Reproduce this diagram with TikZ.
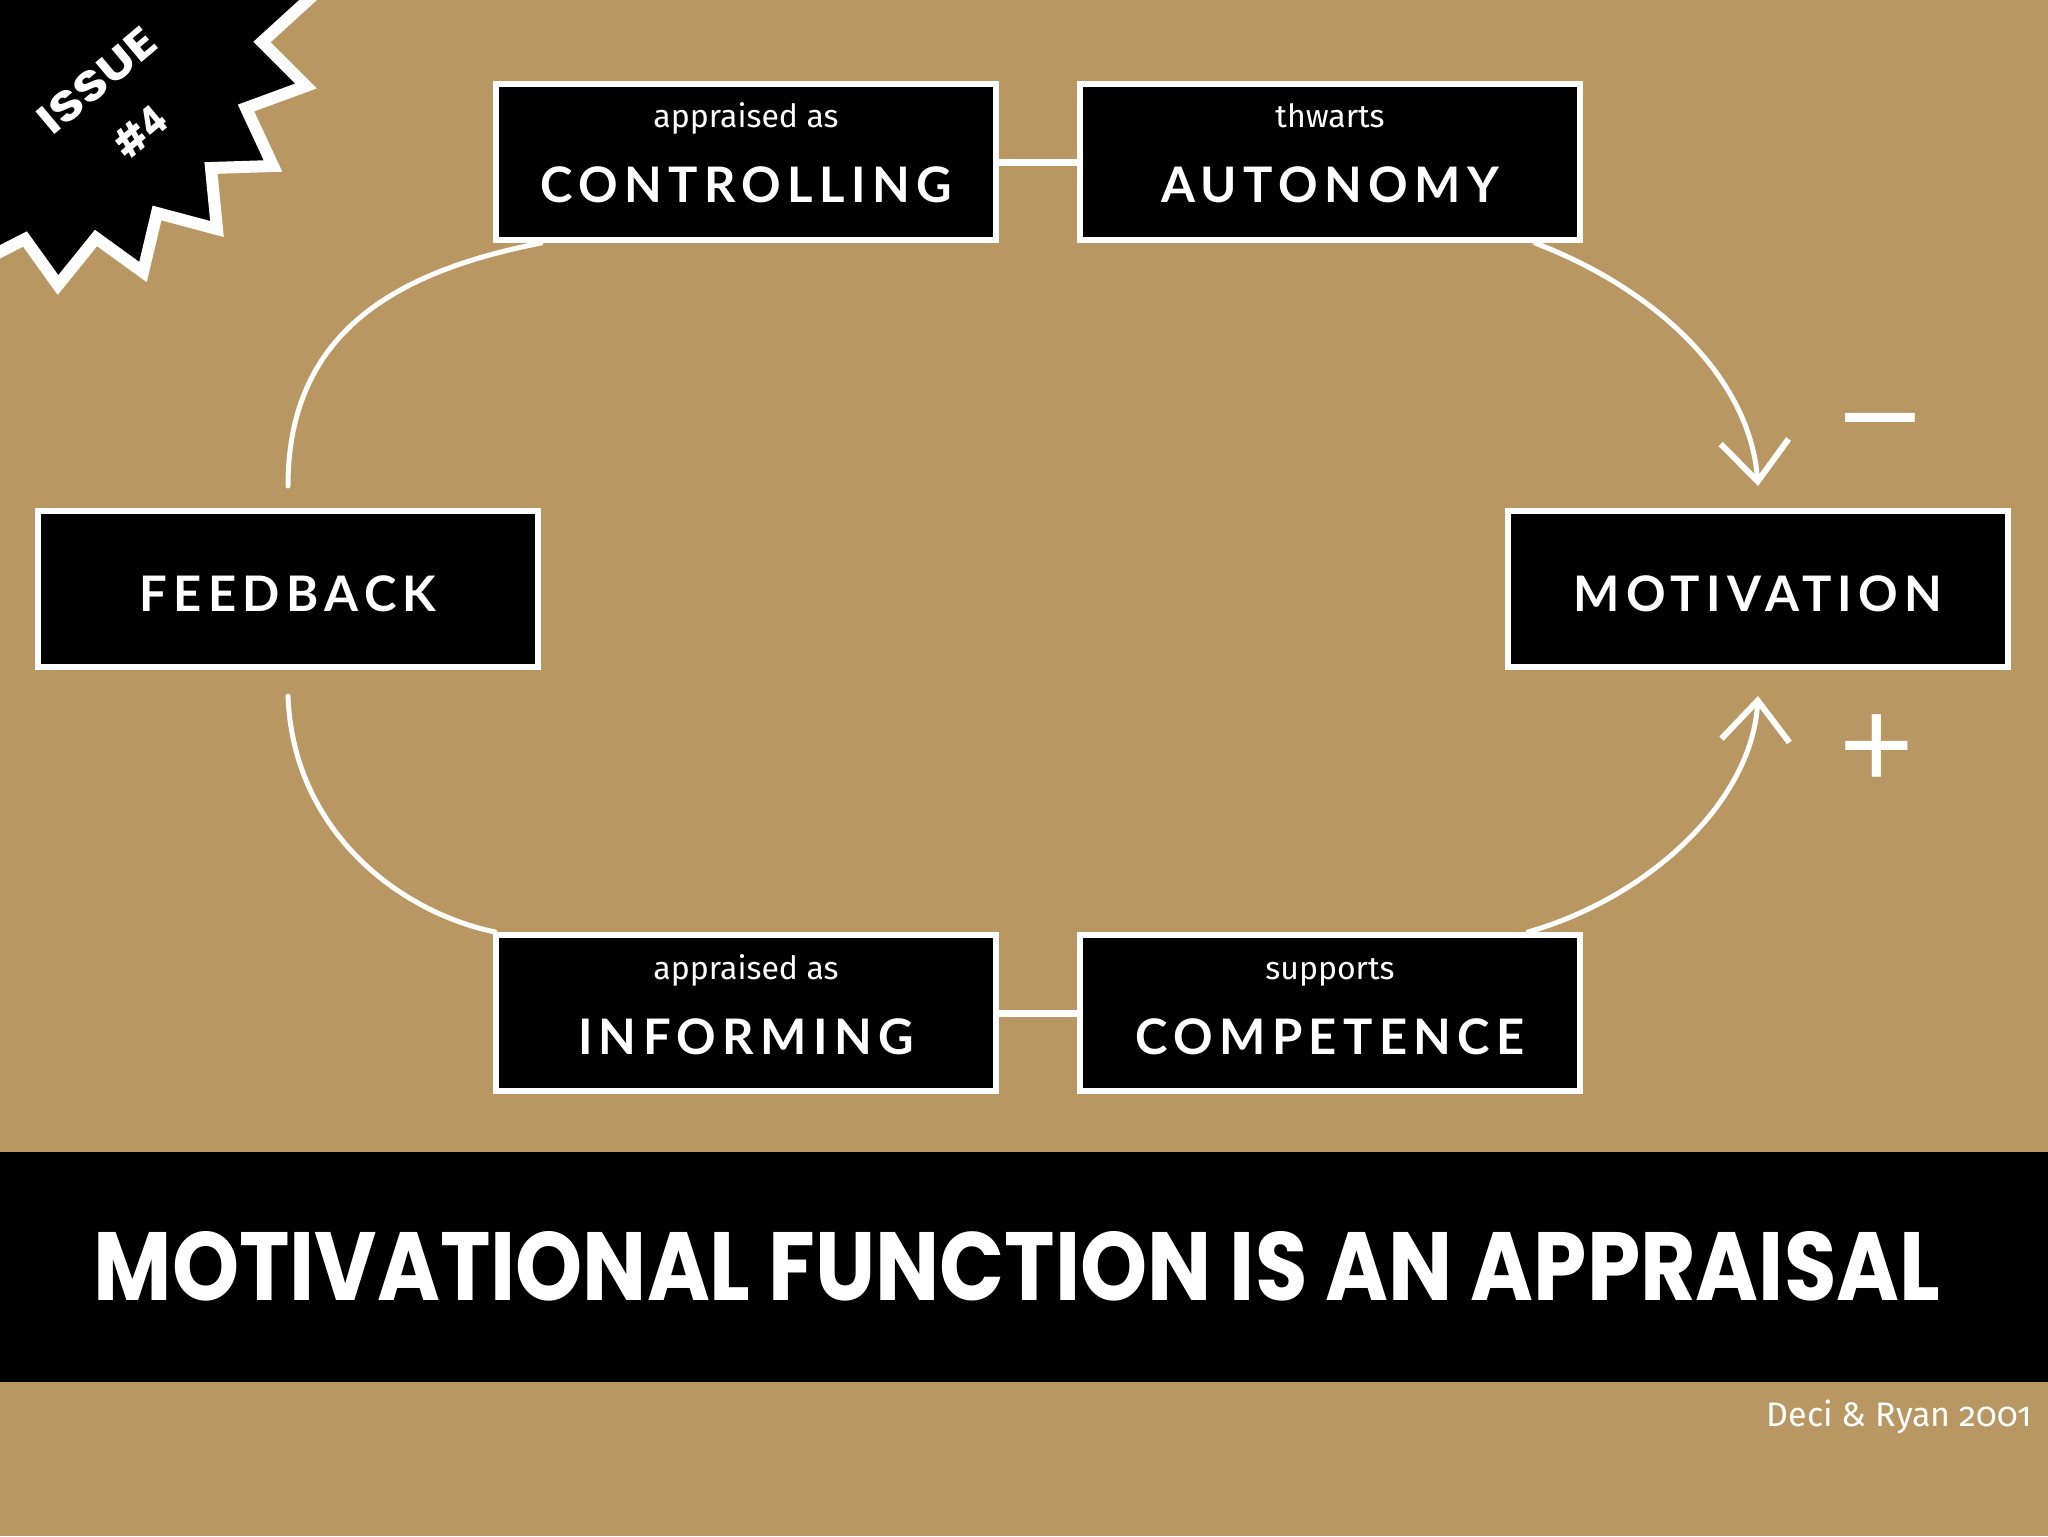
\documentclass[tikz,border=0pt]{standalone}
\usepackage{fontspec}
\usetikzlibrary{arrows.meta,calc}
\newfontfamily\smallfont{Fira Sans}[Numbers=OldStyle]
\newfontfamily\capsfont{Lato}[LetterSpace=13]
\newfontfamily\titlefont{Poppins}
\newfontfamily\signfont{Liberation Sans}
\definecolor{paper}{RGB}{185,151,98}
\begin{document}
\begin{tikzpicture}[x=0.5pt,y=-0.5pt,
  box/.style={fill=black,draw=white,line width=3pt,minimum width=250pt,minimum height=78pt,inner sep=0pt},
  bigword/.style={text=white,font=\capsfont\bfseries\fontsize{24.5}{24.5}\selectfont,inner sep=0pt},
  smallword/.style={text=white,font=\smallfont\fontsize{16}{16}\selectfont,inner sep=0pt,anchor=base},
  chalk/.style={draw=white,line width=2.5pt,line cap=round},
  link/.style={draw=white,line width=3.5pt},
  tipped/.style={-{Straight Barb[length=20pt,width=34pt,line width=3pt]}},
  badgetext/.style={text=white,font=\titlefont\bfseries\fontsize{20}{33.5}\selectfont,inner sep=0pt,align=center},
  sign/.style={text=white,font=\signfont\fontsize{64}{64}\selectfont,inner sep=0pt}
]
\useasboundingbox (0,0) rectangle (2048,1536);
\fill[paper] (0,0) rectangle (2048,1536);

% badge
\filldraw[fill=black,draw=white,line width=6pt,line join=miter]
  (-20,-20) -- (330,-20) -- (262,42) -- (306,86) -- (246,108) -- (273,166)
  -- (211,168) -- (217,229) -- (157,213) -- (143,272) -- (96,238) -- (58,285)
  -- (25,239) -- (-20,262) -- cycle;
\node[badgetext,rotate=40] (issue) at (118.5,106) {\resizebox{70pt}{15pt}{ISSUE}\\\resizebox{28pt}{15pt}{\#4}};

% boxes
\node[box] (ctrl) at (746,162) {};
\node[box] (aut)  at (1330,162) {};
\node[box] (fb)   at (288,589) {};
\node[box] (mot)  at (1758,589) {};
\node[box] (inf)  at (746,1013) {};
\node[box] (comp) at (1330,1013) {};

\node[smallword] (ctrlS) at ($(ctrl.center)+(0,-35)$) {appraised as};
\node[bigword]   (ctrlB) at ($(ctrl.center)+(0,23)$) {CONTROLLING};
\node[smallword] (autS)  at ($(aut.center)+(0,-35)$) {thwarts};
\node[bigword]   (autB)  at ($(aut.center)+(0,23)$) {AUTONOMY};
\node[bigword]   (fbB)   at ($(fb.center)+(0,5)$) {FEEDBACK};
\node[bigword]   (motB)  at ($(mot.center)+(0,5)$) {MOTIVATION};
\node[smallword] (infS)  at ($(inf.center)+(0,-34)$) {appraised as};
\node[bigword]   (infB)  at ($(inf.center)+(0,24)$) {INFORMING};
\node[smallword] (compS) at ($(comp.center)+(0,-34)$) {supports};
\node[bigword]   (compB) at ($(comp.center)+(0,24)$) {COMPETENCE};

% links
\draw[link] (ctrl.east) -- (aut.west);
\draw[link] (inf.east) -- (comp.west);

% curves
\draw[chalk] ([yshift=11pt]fb.north) .. controls +(0,-156) and +(-142,28) .. ($(ctrl.south west)+(48,0)$);
\draw[chalk,tipped] ($(aut.south east)+(-48,0)$) .. controls +(125,48) and +(-8,-106) .. ([yshift=11pt]mot.north);
\draw[chalk] ([yshift=-13pt]fb.south) .. controls +(5,135) and +(-96,-20) .. ($(inf.north west)+(2,0)$);
\draw[chalk,tipped] ($(comp.north east)+(-55,0)$) .. controls +(122,-35) and +(-6,105) .. ([yshift=-13pt]mot.south);

% signs
\node[sign,xscale=1.12] (minus) at (1880,437) {−};
\node[sign] (plus) at (1877,752) {+};

% title band
\fill[black] (0,1152) rectangle (2048,1382);
\node[text=white,inner sep=0pt] (title) at (1017,1266) {\titlefont\bfseries\resizebox{923pt}{34.5pt}{MOTIVATIONAL FUNCTION IS AN APPRAISAL}};

\node[anchor=base east,text=white,inner sep=0pt,font=\smallfont\fontsize{17}{17}\selectfont] (ref) at (2032,1426) {Deci \& Ryan 2001};
\end{tikzpicture}
\end{document}
